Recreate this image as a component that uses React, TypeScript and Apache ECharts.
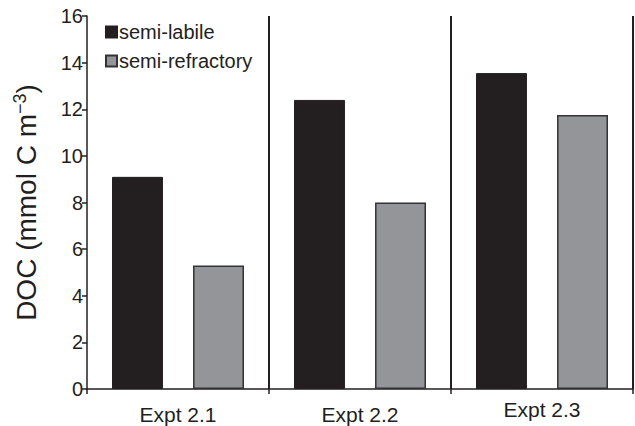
import React, { useEffect, useRef } from "react";
import * as echarts from "echarts";

const categories = ["Expt 2.1", "Expt 2.2", "Expt 2.3"];
const semiLabile = [9.1, 12.4, 13.55];
const semiRefractory = [5.3, 8.0, 11.75];
const seriesNames = ["semi-labile", "semi-refractory"];

const FONT = "Liberation Sans, Arial, Helvetica, sans-serif";
const TEXT = "#231f20";

export default function App() {
  const ref = useRef<HTMLDivElement>(null);
  useEffect(() => {
    if (!ref.current) return;
    const chart = echarts.init(ref.current, undefined, { renderer: "svg" });
    chart.setOption({
      animation: false,
      grid: { left: 87, right: 2, top: 16, bottom: 37, containLabel: false },
      legend: {
        orient: "vertical",
        left: 100,
        top: 17,
        itemWidth: 11,
        itemHeight: 11,
        itemGap: 9,
        icon: "rect",
        textStyle: { fontFamily: FONT, fontSize: 20, lineHeight: 19, color: TEXT, padding: [0, 0, 0, -3] },
        data: seriesNames,
      },
      xAxis: {
        type: "category",
        data: categories,
        axisLine: { lineStyle: { color: TEXT, width: 1.5 } },
        axisTick: { show: true, length: 5, lineStyle: { color: TEXT, width: 1.5 } },
        axisLabel: {
          fontFamily: FONT,
          fontSize: 21,
          color: TEXT,
          margin: 15,
          formatter: (v: string, i: number) => (i === 2 ? `{u|${v}}` : v),
          rich: { u: { fontFamily: FONT, fontSize: 21, color: TEXT, padding: [-5, 0, 0, 0] } },
        },
        splitLine: {
          show: true,
          interval: (i: number) => i === 1 || i === 2,
          lineStyle: { color: TEXT, width: 2 },
        },
      },
      yAxis: {
        type: "value",
        min: 0,
        max: 16,
        interval: 2,
        name: "{a|DOC (mmol C m}{s|−3}{a|)}",
        nameLocation: "middle",
        nameGap: 46,
        nameTextStyle: {
          fontFamily: FONT,
          rich: {
            a: { fontFamily: FONT, fontSize: 28, color: TEXT, lineHeight: 30 },
            s: { fontFamily: FONT, fontSize: 18, color: TEXT, verticalAlign: "top", lineHeight: 30, padding: [0, 0, 13, 0] },
          },
        },
        axisLine: { show: true, lineStyle: { color: TEXT, width: 1.5 } },
        axisTick: { show: true, length: 5, lineStyle: { color: TEXT, width: 1.5 } },
        axisLabel: { fontFamily: FONT, fontSize: 20, color: TEXT, margin: 4 },
        splitLine: { show: false },
      },
      series: [
        {
          name: seriesNames[0],
          type: "bar",
          data: semiLabile,
          barWidth: "28%",
          barGap: "59%",
          itemStyle: { color: "#231f20", borderColor: "#231f20", borderWidth: 1 },
        },
        {
          name: seriesNames[1],
          type: "bar",
          data: semiRefractory,
          barWidth: "28%",
          itemStyle: { color: "#939598", borderColor: "#333333", borderWidth: 1.5 },
        },
      ],
    });
    return () => chart.dispose();
  }, []);
  return <div ref={ref} style={{ position: "absolute", left: 0, top: 0, width: 635, height: 426 }} />;
}
